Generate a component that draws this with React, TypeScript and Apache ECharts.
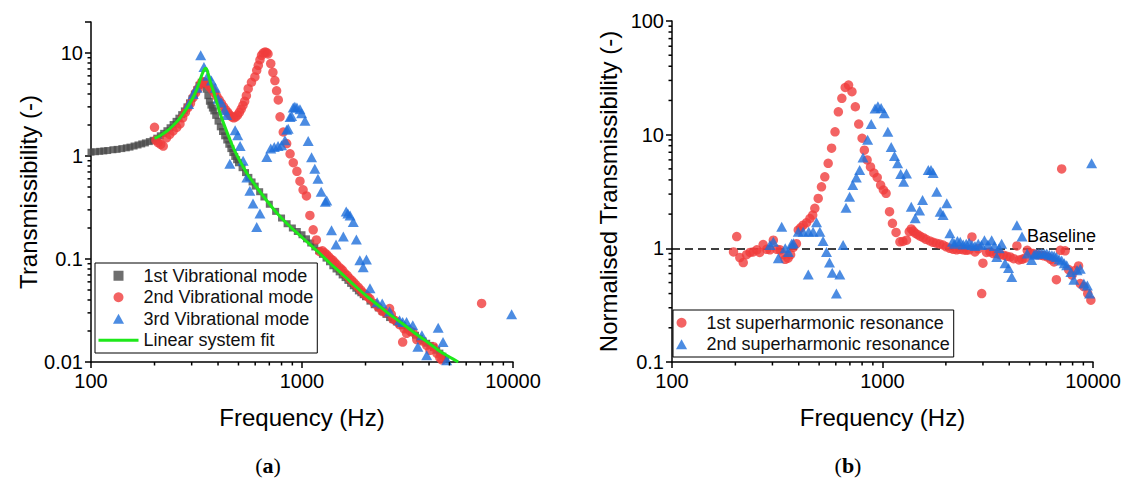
import React, { useEffect, useRef } from "react";
import * as echarts from "echarts";

const FONT = '"Liberation Sans", Arial, Helvetica, sans-serif';
const SERIF = '"Liberation Serif", "DejaVu Serif", serif';

// ---------- Panel (a): transmissibility ----------
const mode1: [number, number][] = [
  [100, 1.09], [105, 1.1], [110, 1.11], [115, 1.12], [120, 1.13], [127, 1.15], [133, 1.16], [140, 1.18],
  [147, 1.2], [153, 1.22], [160, 1.25], [167, 1.28], [174, 1.31], [181, 1.34], [189, 1.38], [197, 1.42],
  [205, 1.49], [213, 1.57], [221, 1.66], [229, 1.76], [237, 1.88], [245, 2.02], [253, 2.17], [261, 2.33],
  [269, 2.52], [277, 2.74], [285, 3.0], [293, 3.28], [301, 3.6], [309, 3.98], [317, 4.4], [325, 4.85],
  [333, 5.2], [340, 5.3], [346, 5.0], [352, 4.45], [358, 3.85], [364, 3.4], [370, 3.12], [376, 2.92],
  [382, 2.74], [390, 2.48], [400, 2.18], [410, 1.92], [420, 1.73], [430, 1.57], [440, 1.43], [450, 1.3],
  [460, 1.18], [470, 1.08], [480, 0.99], [490, 0.92], [500, 0.86], [520, 0.77], [540, 0.69], [560, 0.62],
  [580, 0.56], [600, 0.51], [630, 0.45], [660, 0.4], [700, 0.34], [750, 0.29], [800, 0.25], [850, 0.22],
  [900, 0.2], [950, 0.185], [1000, 0.172], [1050, 0.157], [1100, 0.143], [1150, 0.131], [1200, 0.12],
  [1250, 0.111], [1300, 0.102], [1350, 0.094], [1400, 0.086], [1450, 0.08], [1500, 0.075], [1550, 0.07],
  [1600, 0.066], [1650, 0.062], [1700, 0.058], [1750, 0.055], [1800, 0.052], [1850, 0.049], [1900, 0.047],
  [1950, 0.045], [2000, 0.043], [2100, 0.039], [2200, 0.036], [2300, 0.0335], [2400, 0.031], [2500, 0.029],
  [2600, 0.027], [2700, 0.0258], [2800, 0.0245], [2900, 0.0235], [3000, 0.0225], [3150, 0.021], [3300, 0.0195],
  [3450, 0.0182], [3600, 0.017], [3750, 0.016], [3900, 0.0152], [4050, 0.0145], [4200, 0.0138], [4350, 0.013],
  [4500, 0.0122], [4650, 0.0114], [4800, 0.0106],
];

const mode2: [number, number][] = [
  [200, 1.9], [203, 1.42], [208, 1.35], [214, 1.3], [220, 1.25], [228, 1.5], [236, 1.62], [245, 1.75],
  [255, 1.9], [264, 2.05], [272, 2.35], [280, 2.65], [288, 2.95], [296, 3.25], [305, 3.7], [313, 4.1],
  [322, 4.5], [330, 5.0], [338, 5.3], [346, 5.2], [355, 5.0], [365, 4.7], [375, 4.4], [385, 4.1],
  [395, 3.8], [405, 3.5], [415, 3.25], [425, 3.0], [435, 2.8], [445, 2.65], [455, 2.5], [465, 2.4],
  [475, 2.35], [485, 2.4], [495, 2.5], [505, 2.65], [515, 2.85], [525, 3.1], [535, 3.4], [545, 3.85],
  [556, 4.5], [576, 5.2], [598, 5.85], [610, 6.8], [621, 7.6], [632, 8.6], [643, 9.5], [655, 10.0],
  [668, 10.2], [680, 10.1], [690, 9.8], [711, 7.9], [728, 6.5], [744, 5.4], [758, 4.3], [772, 3.5],
  [787, 2.4], [815, 1.71], [846, 1.32], [878, 1.05], [909, 0.86], [946, 0.71], [978, 0.57], [1012, 0.47],
  [1050, 0.41], [1090, 0.265], [1130, 0.192], [1170, 0.153], [1215, 0.118], [1250, 0.12], [1280, 0.115],
  [1310, 0.11], [1340, 0.105], [1370, 0.1], [1400, 0.097], [1430, 0.092], [1460, 0.088], [1500, 0.083],
  [1530, 0.08], [1560, 0.077], [1600, 0.072], [1640, 0.069], [1680, 0.065], [1720, 0.062], [1760, 0.059],
  [1800, 0.056], [1850, 0.053], [1900, 0.05], [1950, 0.047], [2000, 0.045], [2050, 0.043], [2100, 0.041],
  [2200, 0.037], [2300, 0.034], [2400, 0.031], [2500, 0.03], [2600, 0.033], [2650, 0.029], [2700, 0.026],
  [2800, 0.025], [2900, 0.023], [3000, 0.0156], [3050, 0.021], [3130, 0.019], [3250, 0.02], [3350, 0.0195],
  [3500, 0.0165], [3700, 0.016], [3900, 0.0145], [4040, 0.013], [4200, 0.0141], [4360, 0.0121], [4500, 0.011],
  [4600, 0.0105], [7100, 0.037],
];

const mode3: [number, number][] = [
  [290, 3.2], [305, 4.0], [318, 4.6], [331, 9.5], [343, 7.3], [358, 6.0], [372, 5.4], [388, 4.6],
  [400, 3.6], [415, 3.3], [430, 2.8], [440, 2.5], [455, 0.84], [482, 1.78], [496, 1.59], [509, 1.25],
  [526, 0.9], [548, 0.62], [566, 0.46], [586, 0.345], [610, 0.204], [632, 0.276], [681, 0.98], [711, 1.18],
  [739, 1.22], [770, 1.25], [800, 1.27], [830, 1.42], [846, 1.8], [860, 1.84], [878, 2.39], [893, 2.45],
  [909, 2.95], [925, 3.0], [946, 2.95], [978, 2.85], [996, 2.6], [1033, 2.2], [1070, 1.4], [1110, 0.97],
  [1150, 0.75], [1190, 0.6], [1233, 0.45], [1290, 0.36], [1310, 0.37], [1380, 0.19], [1450, 0.138],
  [1570, 0.165], [1620, 0.29], [1650, 0.276], [1690, 0.265], [1750, 0.229], [1810, 0.155], [1880, 0.097],
  [1950, 0.083], [2020, 0.099], [2100, 0.052], [2270, 0.038], [2400, 0.037], [2600, 0.031], [2900, 0.0254],
  [3000, 0.0245], [3130, 0.0245], [3350, 0.0228], [3540, 0.0141], [3700, 0.0182], [3900, 0.0116],
  [4420, 0.0215], [4660, 0.0156], [4850, 0.0104], [9850, 0.029],
];

const linearFit: [number, number][] = [
  [200, 1.48], [215, 1.6], [230, 1.76], [245, 1.98], [260, 2.25], [275, 2.62], [290, 3.1], [305, 3.72],
  [318, 4.5], [328, 5.4], [337, 6.3], [345, 6.95], [350, 7.1], [355, 6.8], [362, 5.9], [370, 5.0],
  [380, 4.3], [395, 3.3], [409, 2.6], [430, 1.95], [455, 1.45], [480, 1.12], [510, 0.88], [548, 0.68],
  [600, 0.52], [680, 0.37], [760, 0.28], [850, 0.22], [950, 0.178], [1050, 0.148], [1200, 0.116],
  [1350, 0.092], [1500, 0.076], [1700, 0.06], [2000, 0.0445], [2300, 0.0355], [2600, 0.029], [3000, 0.0235],
  [3500, 0.0185], [4000, 0.0152], [4500, 0.0127], [5000, 0.0112], [5500, 0.01],
];

// ---------- Panel (b): normalised transmissibility ----------
const superH1: [number, number][] = [
  [196, 0.93], [203, 1.27], [210, 0.83], [218, 0.75], [226, 0.88], [235, 0.92], [243, 0.93], [253, 0.97],
  [261, 0.92], [271, 1.08], [282, 0.98], [292, 0.97], [303, 1.18], [315, 0.98], [326, 0.97], [338, 0.88],
  [345, 0.8], [356, 0.82], [366, 0.88], [377, 1.02], [390, 1.1], [398, 1.45], [409, 1.52], [420, 1.6],
  [436, 1.68], [452, 1.83], [466, 1.96], [477, 2.25], [495, 2.75], [513, 3.48], [532, 4.26], [552, 5.6],
  [573, 7.6], [595, 10.6], [617, 15.9], [641, 20.9], [665, 26.0], [690, 27.3], [716, 23.9], [743, 17.6],
  [771, 12.4], [800, 9.3], [820, 7.3], [845, 6.0], [877, 5.2], [910, 4.6], [944, 4.2], [980, 3.6],
  [1010, 3.26], [1040, 3.05], [1080, 2.1], [1115, 1.66], [1160, 1.38], [1210, 1.14], [1250, 1.15],
  [1300, 1.18], [1340, 1.4], [1370, 1.48], [1400, 1.42], [1430, 1.36], [1470, 1.32], [1510, 1.28],
  [1560, 1.24], [1610, 1.2], [1680, 1.16], [1740, 1.13], [1800, 1.11], [1870, 1.09], [1940, 1.07],
  [2010, 1.03], [2090, 1.0], [2170, 0.98], [2250, 0.97], [2330, 0.98], [2420, 0.97], [2500, 0.96],
  [2580, 0.97], [2660, 1.26], [2750, 0.93], [2850, 0.99], [2960, 0.4], [3000, 0.74], [3120, 0.92],
  [3240, 0.93], [3360, 0.9], [3490, 0.9], [3620, 0.88], [3760, 0.87], [3900, 0.85], [4040, 0.84],
  [4200, 0.81], [4350, 1.05], [4450, 0.79], [4600, 0.8], [4750, 0.82], [4870, 0.96], [5050, 0.91],
  [5220, 0.9], [5420, 0.88], [5630, 0.87], [5840, 0.86], [6060, 0.84], [6300, 0.8], [6530, 0.76],
  [6700, 0.53], [7000, 0.96], [7100, 5.0], [7370, 0.95], [7660, 0.65], [7950, 0.58], [8240, 0.64],
  [8540, 0.7], [8700, 0.49], [9040, 0.46], [9440, 0.4], [9770, 0.35],
];

const superH2: [number, number][] = [
  [292, 1.07], [303, 1.14], [320, 0.82], [332, 1.55], [345, 1.0], [357, 0.93], [370, 1.1], [377, 1.11],
  [398, 1.4], [420, 1.4], [444, 0.59], [446, 1.4], [468, 1.4], [486, 1.7], [504, 1.4], [522, 1.16],
  [542, 0.93], [560, 0.75], [577, 0.61], [604, 0.4], [627, 0.59], [650, 1.07], [671, 2.28], [698, 2.85],
  [722, 3.6], [751, 4.2], [779, 4.9], [808, 6.3], [850, 9.0], [884, 12.4], [922, 17.0], [951, 17.8],
  [985, 17.2], [1020, 15.4], [1060, 10.6], [1100, 7.8], [1140, 6.5], [1180, 5.6], [1220, 4.5],
  [1260, 3.85], [1300, 4.56], [1370, 2.32], [1430, 1.84], [1500, 2.15], [1550, 2.66], [1650, 4.88],
  [1700, 4.9], [1740, 4.6], [1810, 3.15], [1880, 2.1], [1940, 1.96], [2020, 2.49], [2090, 1.36],
  [2150, 1.14], [2200, 1.1], [2270, 1.16], [2340, 1.14], [2420, 1.08], [2500, 1.1], [2580, 1.12],
  [2660, 1.07], [2750, 1.05], [2850, 1.1], [2950, 1.07], [3050, 1.18], [3170, 1.08], [3300, 1.18],
  [3400, 1.05], [3490, 0.84], [3580, 1.0], [3680, 1.1], [3820, 0.74], [3970, 0.67], [4110, 0.56],
  [4350, 1.6], [4600, 1.27], [4870, 0.9], [5110, 0.79], [5250, 0.88], [5380, 0.9], [5530, 0.9],
  [5700, 0.91], [5870, 0.9], [6030, 0.9], [6200, 0.88], [6380, 0.87], [6540, 0.86], [6700, 0.84],
  [6900, 0.8], [7100, 0.78], [7300, 0.74], [7500, 0.71], [7850, 0.62], [8110, 0.53], [8400, 0.64],
  [8700, 0.66], [9050, 0.49], [9400, 0.47], [9640, 0.4], [9850, 5.6],
];

const baselineLevel = 1;

// axis ranges and minor tick positions
const xRange = [100, 10000];
const yRangeA = [0.01, 20];
const yRangeB = [0.1, 100];
const minorX = [200, 300, 400, 500, 600, 700, 800, 900, 2000, 3000, 4000, 5000, 6000, 7000, 8000, 9000];
const minorYA = [0.02, 0.03, 0.04, 0.05, 0.06, 0.07, 0.08, 0.09, 0.2, 0.3, 0.4, 0.5, 0.6, 0.7, 0.8, 0.9, 2, 3, 4, 5, 6, 7, 8, 9];
const minorYB = [0.2, 0.3, 0.4, 0.5, 0.6, 0.7, 0.8, 0.9, 2, 3, 4, 5, 6, 7, 8, 9, 20, 30, 40, 50, 60, 70, 80, 90];

const RED = "#f03c3c";
const BLUE = "#1f6fdb";
const GREY = "#4a4a4a";
const GREEN = "#1ee81a";

const ICON_SQUARE = "path://M0,0L10,0L10,10L0,10Z";
const ICON_TRIANGLE = "path://M5,0L10,9L0,9Z";

function powLabel(v: number): string {
  const l = Math.log10(v);
  if (Math.abs(l - Math.round(l)) > 1e-6) return "";
  return String(Number(v.toPrecision(6)));
}

function logAxis(gridIndex: number, range: number[], name: string, isX: boolean, nameGap: number) {
  return {
    type: "log",
    logBase: 10,
    gridIndex,
    min: range[0],
    max: range[1],
    name,
    nameLocation: "middle",
    nameGap,
    nameTextStyle: { color: "#000", fontSize: 24, fontFamily: FONT },
    axisLine: { show: true, onZero: false, lineStyle: { color: "#000", width: 1.5 } },
    axisTick: { show: true, inside: false, length: 6, lineStyle: { color: "#000", width: 1.5 } },
    axisLabel: {
      color: "#000",
      fontSize: 20,
      fontFamily: FONT,
      margin: isX ? 9 : 8,
      formatter: powLabel,
      showMaxLabel: true,
    },
    splitLine: { show: false },
    minorTick: { show: false },
  };
}

function minorTickSeries(idx: number, xs: number[], ys: number[], xMin: number, yMin: number) {
  const data = [...xs.map((v) => [v, yMin, 0]), ...ys.map((v) => [xMin, v, 1])];
  return {
    type: "custom",
    xAxisIndex: idx,
    yAxisIndex: idx,
    silent: true,
    clip: false,
    z: 6,
    data,
    renderItem: (_p: any, api: any) => {
      const p = api.coord([api.value(0), api.value(1)]);
      const k = api.value(2);
      const shape =
        k === 0
          ? { x1: p[0], y1: p[1], x2: p[0], y2: p[1] + 3.5 }
          : { x1: p[0] - 3.5, y1: p[1], x2: p[0], y2: p[1] };
      return { type: "line", shape, style: { stroke: "#000", lineWidth: 1.5 } };
    },
  };
}

const legendCommon = {
  orient: "vertical",
  itemWidth: 40,
  itemHeight: 10,
  itemGap: 0,
  symbolKeepAspect: true,
  borderColor: "#000",
  borderWidth: 1,
  borderRadius: 0,
  backgroundColor: "#fff",
  textStyle: { fontSize: 18, fontFamily: FONT, color: "#111", lineHeight: 21.5 },
};

export default function App() {
  const ref = useRef<HTMLDivElement>(null);
  useEffect(() => {
    if (!ref.current) return;
    const chart = echarts.init(ref.current, undefined, { renderer: "svg" });
    const option: any = {
      animation: false,
      backgroundColor: "#fff",
      grid: [
        { left: 91, top: 22, width: 422, height: 340 },
        { left: 672, top: 21, width: 421, height: 341 },
      ],
      xAxis: [
        logAxis(0, xRange, "Frequency (Hz)", true, 43),
        logAxis(1, xRange, "Frequency (Hz)", true, 43),
      ],
      yAxis: [
        logAxis(0, yRangeA, "Transmissibility (-)", false, 51),
        logAxis(1, yRangeB, "Normalised Transmissibility (-)", false, 52),
      ],
      legend: [
        {
          ...legendCommon,
          left: 95,
          top: 263,
          padding: [2, 4, 2, 2],
          data: [
            { name: "1st Vibrational mode", icon: ICON_SQUARE },
            { name: "2nd Vibrational mode", icon: "circle" },
            { name: "3rd Vibrational mode", icon: ICON_TRIANGLE },
            { name: "Linear system fit", itemStyle: { opacity: 0 }, lineStyle: { width: 3, color: GREEN } },
          ],
        },
        {
          ...legendCommon,
          left: 673,
          top: 310,
          padding: [2, 4, 2, 3],
          data: [
            { name: "1st superharmonic resonance", icon: "circle" },
            { name: "2nd superharmonic resonance", icon: ICON_TRIANGLE },
          ],
        },
      ],
      series: [
        {
          name: "1st Vibrational mode",
          type: "scatter",
          xAxisIndex: 0,
          yAxisIndex: 0,
          symbol: "rect",
          symbolSize: 7,
          itemStyle: { color: GREY },
          data: mode1,
        },
        {
          name: "2nd Vibrational mode",
          type: "scatter",
          xAxisIndex: 0,
          yAxisIndex: 0,
          symbol: "circle",
          symbolSize: 9.5,
          itemStyle: { color: RED },
          data: mode2,
        },
        {
          name: "3rd Vibrational mode",
          type: "scatter",
          xAxisIndex: 0,
          yAxisIndex: 0,
          symbol: "triangle",
          symbolSize: [11, 10],
          itemStyle: { color: BLUE },
          data: mode3,
        },
        {
          name: "Linear system fit",
          type: "line",
          xAxisIndex: 0,
          yAxisIndex: 0,
          symbol: "none",
          smooth: 0.3,
          lineStyle: { color: GREEN, width: 3 },
          itemStyle: { color: GREEN },
          data: linearFit,
          z: 4,
        },
        {
          name: "1st superharmonic resonance",
          type: "scatter",
          xAxisIndex: 1,
          yAxisIndex: 1,
          symbol: "circle",
          symbolSize: 9.5,
          itemStyle: { color: RED },
          data: superH1,
          markLine: {
            silent: true,
            symbol: "none",
            z: 1,
            lineStyle: { color: "#000", width: 1.5, type: [8, 5] },
            label: {
              show: true,
              formatter: "Baseline",
              position: "insideEndTop",
              distance: [-3, 3],
              fontSize: 18,
              fontFamily: FONT,
              color: "#000",
            },
            data: [{ yAxis: baselineLevel }],
          },
        },
        {
          name: "2nd superharmonic resonance",
          type: "scatter",
          xAxisIndex: 1,
          yAxisIndex: 1,
          symbol: "triangle",
          symbolSize: [11, 10],
          itemStyle: { color: BLUE },
          data: superH2,
        },
        minorTickSeries(0, minorX, minorYA, xRange[0], yRangeA[0]),
        minorTickSeries(1, minorX, minorYB, xRange[0], yRangeB[0]),
      ],
      graphic: [
        {
          type: "text",
          x: 268,
          y: 465,
          style: {
            text: "{p|(}{b|a}{p|)}",
            align: "center",
            verticalAlign: "middle",
            rich: {
              p: { fontFamily: SERIF, fontSize: 22, fill: "#000" },
              b: { fontFamily: SERIF, fontSize: 22, fontWeight: "bold", fill: "#000" },
            },
          },
        },
        {
          type: "text",
          x: 848,
          y: 465,
          style: {
            text: "{p|(}{b|b}{p|)}",
            align: "center",
            verticalAlign: "middle",
            rich: {
              p: { fontFamily: SERIF, fontSize: 22, fill: "#000" },
              b: { fontFamily: SERIF, fontSize: 22, fontWeight: "bold", fill: "#000" },
            },
          },
        },
      ],
    };
    chart.setOption(option);
    return () => chart.dispose();
  }, []);
  return (
    <div
      ref={ref}
      style={{ position: "absolute", left: 0, top: 0, width: 1127, height: 479, background: "#fff" }}
    />
  );
}
